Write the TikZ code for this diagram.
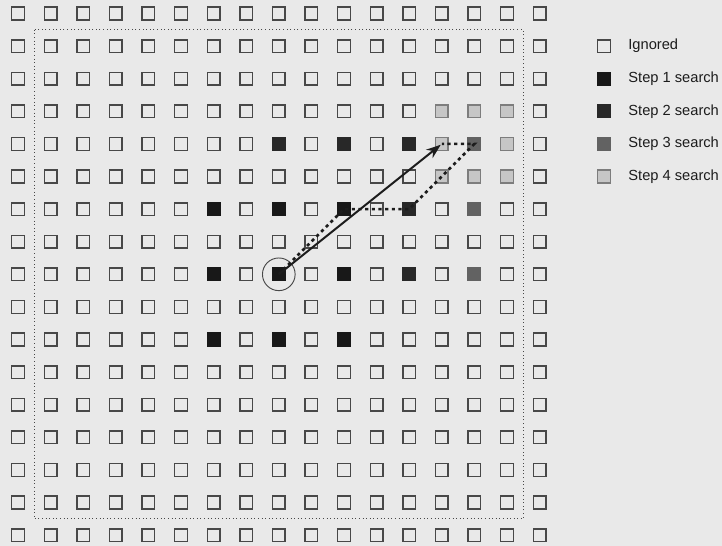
\documentclass[tikz,border=0pt]{standalone}
\usepackage{fontspec}
\setmainfont{Liberation Sans}
\usetikzlibrary{arrows.meta,positioning}

\begin{document}
\begin{tikzpicture}[x=0.75pt, y=-0.75pt, font=\fontsize{11}{13}\selectfont,
    cell/.style={draw=edgegrey, fill=bggrey, line width=1.1pt, minimum size=9.5pt, inner sep=0pt},
    stepone/.style={draw=stepone, fill=stepone},
    steptwo/.style={draw=steptwo, fill=steptwo},
    stepthree/.style={draw=stepthree, fill=stepthree},
    stepfour/.style={draw=stepfouredge, fill=stepfour},
    keytext/.style={right=12.8pt of #1, text=textgrey, inner sep=0pt},
    motion/.style={-{Stealth[length=11pt, width=8pt]}, line width=1.5pt, draw=textgrey},
    trail/.style={line width=2pt, dash pattern=on 2.4pt off 2.6pt, draw=textgrey}]
    \definecolor{bggrey}{RGB}{233,233,233}
    \definecolor{edgegrey}{RGB}{72,72,72}
    \definecolor{textgrey}{RGB}{28,28,28}
    \definecolor{stepone}{RGB}{24,24,24}
    \definecolor{steptwo}{RGB}{40,40,40}
    \definecolor{stepthree}{RGB}{98,98,98}
    \definecolor{stepfour}{RGB}{198,198,198}
    \definecolor{stepfouredge}{RGB}{125,125,125}

    \fill[bggrey] (0,0) rectangle (722,546);

    % search window, 17 x 17 positions
    \foreach \i in {0,...,16}{
      \foreach \j in {0,...,16}{
        \node[cell] (c-\i-\j) at ({18+32.6*\i},{13.5+32.6*\j}) {};
      }
    }

    % +-7 window
    \draw[dotted, edgegrey, line width=0.7pt] (34.3,29.8) rectangle (523.3,518.8);

    % points visited at each step
    \foreach \i/\j in {6/6, 8/6, 10/6, 6/8, 8/8, 10/8, 6/10, 8/10, 10/10}
      \node[cell, stepone] (s1-\i-\j) at (c-\i-\j) {};
    \foreach \i/\j in {8/4, 10/4, 12/4, 12/6, 12/8}
      \node[cell, steptwo] (s2-\i-\j) at (c-\i-\j) {};
    \foreach \i/\j in {14/4, 14/6, 14/8}
      \node[cell, stepthree] (s3-\i-\j) at (c-\i-\j) {};
    \foreach \i/\j in {13/3, 14/3, 15/3, 13/4, 15/4, 13/5, 14/5, 15/5}
      \node[cell, stepfour] (s4-\i-\j) at (c-\i-\j) {};

    \node[draw=edgegrey, circle, line width=0.7pt, minimum size=24.5pt] (origin) at (c-8-8) {};

    \draw[trail] (c-8-8.center) -- (c-10-6.center) -- (c-12-6.center)
      -- (c-14-4.center) -- (c-13-4.center);
    \draw[motion, shorten >=1pt] (c-8-8.center) -- (c-13-4.center);

    % legend
    \node[cell] (key0) at (604,46.1) {};
    \node[cell, stepone] (key1) at (604,78.7) {};
    \node[cell, steptwo] (key2) at (604,111.3) {};
    \node[cell, stepthree] (key3) at (604,143.9) {};
    \node[cell, stepfour] (key4) at (604,176.5) {};

    \node[keytext=key0] (key0-label) {Ignored};
    \node[keytext=key1] (key1-label) {Step 1 search};
    \node[keytext=key2] (key2-label) {Step 2 search};
    \node[keytext=key3] (key3-label) {Step 3 search};
    \node[keytext=key4] (key4-label) {Step 4 search};
  \end{tikzpicture}
\end{document}
